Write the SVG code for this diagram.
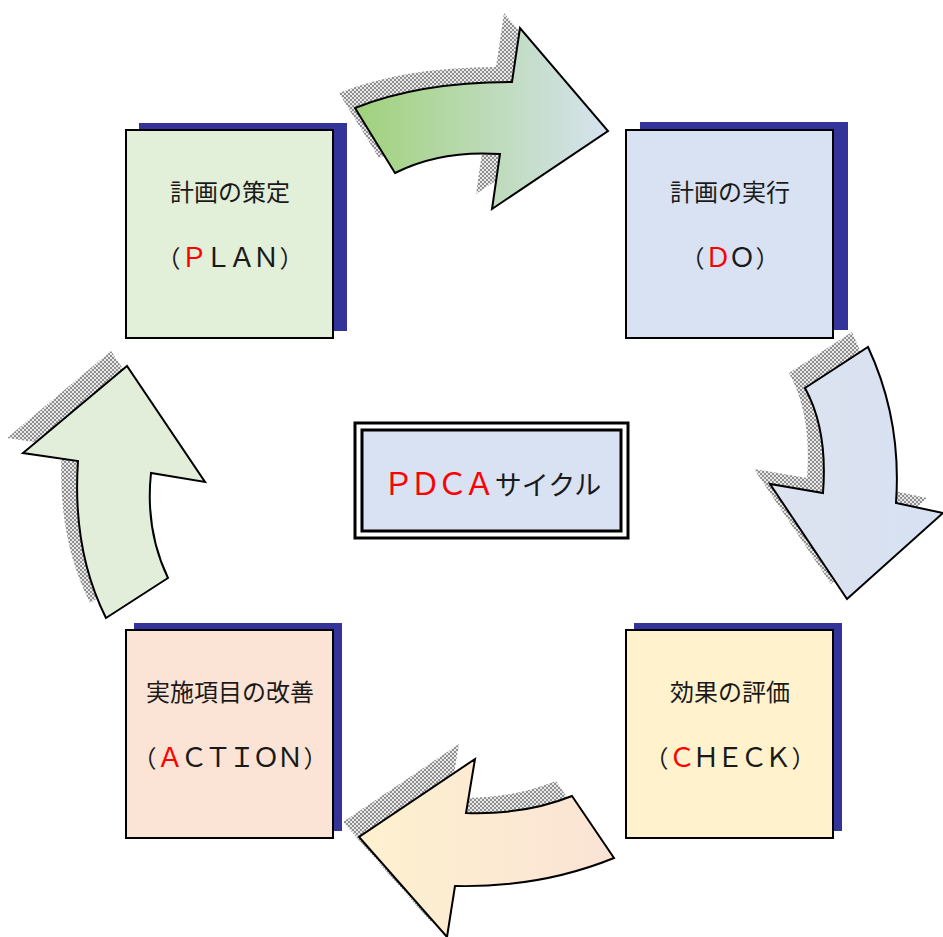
<svg xmlns="http://www.w3.org/2000/svg" width="943" height="937" viewBox="0 0 943 937">
  <defs>
    <style>
      .box { stroke: #000; stroke-width: 2; }
      .drop { fill: #333399; }
      .arrow { stroke: #000; stroke-width: 2; stroke-linejoin: miter; }
      .shade { fill: url(#halftone); }
      .label { font-family: "Noto Sans CJK JP", "Noto Sans", sans-serif; font-size: 24px; fill: #1a1a1a; text-anchor: middle; }
      .title { font-family: "Noto Sans CJK JP", "Noto Sans", sans-serif; font-size: 27px; fill: #1a1a1a; text-anchor: middle; }
      /* wide Latin letters drawn a little larger, advance kept near one em */
      .label .lat { font-size: 27px; letter-spacing: -3px; }
      .title .lat { font-size: 31px; letter-spacing: -4px; }
      .key { fill: #ff0000; }
    </style>
    <pattern id="halftone" width="4" height="4" patternUnits="userSpaceOnUse">
      <rect width="4" height="4" fill="#e8e8e8"/>
      <rect x="0" y="0" width="2" height="2" fill="#8f8f8f"/>
      <rect x="2" y="2" width="2" height="2" fill="#8f8f8f"/>
    </pattern>
    <linearGradient id="gPlanDo" x1="0" y1="0" x2="1" y2="0">
      <stop offset="0" stop-color="#a0d17b"/>
      <stop offset="1" stop-color="#d6e3ef"/>
    </linearGradient>
    <linearGradient id="gDoCheck" x1="0" y1="0" x2="1" y2="0">
      <stop offset="0" stop-color="#dde3ef"/>
      <stop offset="1" stop-color="#d7e1f3"/>
    </linearGradient>
    <linearGradient id="gCheckAct" x1="0" y1="0" x2="1" y2="0">
      <stop offset="0" stop-color="#fef1cf"/>
      <stop offset="1" stop-color="#fae3d5"/>
    </linearGradient>
    <path id="arrowTop" d="M355,108 Q420,82 512,82 L520,28 L608,131 L492,209 L500,154 Q440,150 395,173 Z"/>
    <path id="arrowRight" d="M805,388 L868,347 Q902,420 896,503 L943,513 L847,599 L770,484 L823,493 Q828,430 805,388 Z"/>
    <path id="arrowBottom" d="M572,796 L614,858 Q540,888 455,886 L447,937 L359,837 L475,759 L466,813 Q525,815 572,796 Z"/>
    <path id="arrowLeft" d="M106,618 L168,578 Q145,530 151,473 L205,482 L127,366 L23,453 L78,461 Q72,550 106,618 Z"/>
  </defs>

  <rect width="943" height="937" fill="#ffffff"/>

  <!-- cycle connectors: curved block arrows with halftone shadows -->
  <g id="connectors">
    <g transform="translate(-16,-15)">
      <use href="#arrowTop" class="shade"/>
      <use href="#arrowRight" class="shade"/>
      <use href="#arrowBottom" class="shade"/>
      <use href="#arrowLeft" class="shade"/>
    </g>
    <use id="plan-to-do" href="#arrowTop" class="arrow" fill="url(#gPlanDo)"/>
    <use id="do-to-check" href="#arrowRight" class="arrow" fill="url(#gDoCheck)"/>
    <use id="check-to-action" href="#arrowBottom" class="arrow" fill="url(#gCheckAct)"/>
    <use id="action-to-plan" href="#arrowLeft" class="arrow" fill="#e2eed9"/>
  </g>

  <!-- PLAN -->
  <g id="plan">
    <rect class="drop" x="139" y="123" width="208" height="208"/>
    <rect class="box" x="126" y="130" width="207" height="208" fill="#e2efd9"/>
    <text class="label" x="230" y="201">計画の策定</text>
    <text class="label" x="230" y="267">（<tspan class="lat"><tspan class="key">Ｐ</tspan>ＬＡＮ</tspan><tspan dx="3">）</tspan></text>
  </g>

  <!-- DO -->
  <g id="do">
    <rect class="drop" x="640" y="122" width="208" height="208"/>
    <rect class="box" x="626" y="130" width="207" height="208" fill="#d9e2f3"/>
    <text class="label" x="730" y="201">計画の実行</text>
    <text class="label" x="730" y="267">（<tspan class="lat"><tspan class="key">Ｄ</tspan>Ｏ</tspan><tspan dx="3">）</tspan></text>
  </g>

  <!-- CHECK -->
  <g id="check">
    <rect class="drop" x="634" y="623" width="208" height="208"/>
    <rect class="box" x="626" y="630" width="207" height="208" fill="#fff2cc"/>
    <text class="label" x="730" y="701">効果の評価</text>
    <text class="label" x="730" y="767">（<tspan class="lat"><tspan class="key">Ｃ</tspan>ＨＥＣＫ</tspan><tspan dx="3">）</tspan></text>
  </g>

  <!-- ACTION -->
  <g id="action">
    <rect class="drop" x="134" y="623" width="208" height="208"/>
    <rect class="box" x="126" y="630" width="207" height="208" fill="#fbe4d5"/>
    <text class="label" x="230" y="701">実施項目の改善</text>
    <text class="label" x="230" y="767">（<tspan class="lat"><tspan class="key">Ａ</tspan>ＣＴＩＯＮ</tspan><tspan dx="3">）</tspan></text>
  </g>

  <!-- centre title with double frame -->
  <g id="pdca">
    <rect x="355" y="423" width="273" height="115" fill="#ffffff" stroke="#000" stroke-width="3"/>
    <rect x="362" y="430" width="259" height="101" fill="#d9e2f3" stroke="#000" stroke-width="3"/>
    <text class="title" x="492" y="495"><tspan class="lat key">ＰＤＣＡ</tspan><tspan dx="4">サイクル</tspan></text>
  </g>
</svg>
